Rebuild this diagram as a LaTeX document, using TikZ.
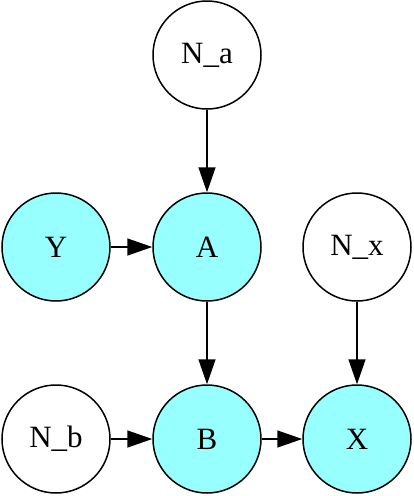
\documentclass[tikz,border=0pt]{standalone}
\usepackage{fontspec}
\setmainfont{Liberation Serif}
\usetikzlibrary{arrows.meta}
\definecolor{obscyan}{RGB}{152,255,255}

\begin{document}
\begin{tikzpicture}[x=1pt,y=-1pt,
		>={Triangle[length=25pt,width=17pt]},
		var/.style={draw, circle, line width=1.5pt, minimum size=108pt,
			inner sep=0pt, font=\fontsize{31}{36}\selectfont},
		obs/.style={var, fill=obscyan},
		edge/.style={->, line width=1.5pt}]
	\useasboundingbox (0,0) rectangle (414,496);

	\node[var] (na) at (207,55) {N\_a};

	\node[obs] (y) at (56,247) {Y};
	\node[obs] (a) at (207,247) {A};
	\node[var] (nx) at (357,247) {N\_x};

	\node[var] (nb) at (56,439) {N\_b};
	\node[obs] (b) at (207,439) {B};
	\node[obs] (x) at (357,439) {X};

	\draw[edge] (na) to (a);
	\draw[edge] (y) to (a);
	\draw[edge] (a) to (b);
	\draw[edge] (nx) to (x);
	\draw[edge] (nb) to (b);
	\draw[edge] (b) to (x);

\end{tikzpicture}
\end{document}
